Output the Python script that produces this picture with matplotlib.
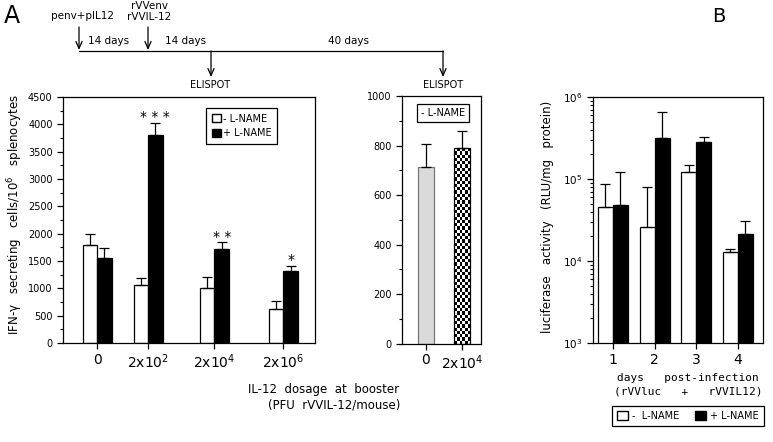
import numpy as np
import matplotlib
matplotlib.use('Agg')
import matplotlib.pyplot as plt
from matplotlib.patches import Patch
from matplotlib.ticker import MultipleLocator, LogLocator, NullFormatter

# ---- panel A, left: IFN-g ELISPOT at 14 days
dose_labels = ['0', '2x10$^2$', '2x10$^4$', '2x10$^6$']
minus_lname = [1800, 1055, 1010, 630]
minus_lname_err = [2000, 1180, 1210, 770]
plus_lname = [1550, 3810, 1720, 1320]
plus_lname_err = [1740, 4030, 1840, 1410]
stars = ['', '* * *', '* *', '*']

# ---- panel A, right: 40 days
late_labels = ['0', '2x10$^4$']
late_vals = [712, 790]
late_err = [805, 858]

# ---- panel B: luciferase activity
days = [1, 2, 3, 4]
luc_minus = [46000, 26000, 120000, 12700]
luc_minus_err = [86000, 79000, 150000, 14000]
luc_plus = [47500, 320000, 282000, 21200]
luc_plus_err = [123000, 650000, 322000, 30500]

plt.rcParams['font.family'] = ['DejaVu Sans']
plt.rcParams['axes.linewidth'] = 0.9

fig = plt.figure(figsize=(7.73, 4.42), dpi=100)


def style_ticks(ax):
    ax.tick_params(axis='both', which='major', direction='out', length=4,
                   width=0.9, labelsize=7, top=False, right=False)
    ax.tick_params(axis='y', which='minor', direction='out', length=2.5,
                   width=0.8, right=False)
    ax.tick_params(axis='x', which='major', labelsize=10, pad=3)


def up_errors(ax, x, vals, tops):
    ax.errorbar(x, vals, yerr=[np.zeros(len(vals)), np.array(tops) - np.array(vals)],
                fmt='none', ecolor='black', elinewidth=0.9, capsize=3.5, capthick=0.9)


# left panel
ax1 = fig.add_axes([0.0815, 0.224, 0.326, 0.5566])
group_x = np.array([0, 1, 2.3, 3.65])
w = 0.284
ax1.bar(group_x - w / 2, minus_lname, w, color='white', edgecolor='black', lw=0.9)
ax1.bar(group_x + w / 2, plus_lname, w, color='black', edgecolor='black', lw=0.9)
up_errors(ax1, group_x - w / 2, minus_lname, minus_lname_err)
up_errors(ax1, group_x + w / 2, plus_lname, plus_lname_err)
for xi, top, s in zip(group_x, plus_lname_err, stars):
    if s:
        ax1.text(xi + w / 2, top + 100, s, ha='center', va='center', fontsize=10)
ax1.set_xlim(-0.667, 4.27)
ax1.set_ylim(0, 4500)
ax1.set_xticks(group_x)
ax1.set_xticklabels(dose_labels)
ax1.yaxis.set_major_locator(MultipleLocator(500))
ax1.yaxis.set_minor_locator(MultipleLocator(250))
style_ticks(ax1)
leg = ax1.legend([Patch(facecolor='white', edgecolor='black'),
                  Patch(facecolor='black', edgecolor='black')],
                 ['- L-NAME', '+ L-NAME'], loc='upper left',
                 bbox_to_anchor=(0.55, 0.976), fancybox=False, edgecolor='black',
                 framealpha=1, fontsize=7, handlelength=0.9, handleheight=0.9,
                 handletextpad=0.15, borderpad=0.6, labelspacing=0.5)
leg.get_frame().set_linewidth(0.9)

# middle panel
ax2 = fig.add_axes([0.52, 0.2224, 0.102, 0.5604])
late_x = np.arange(len(late_vals))
lw2 = 0.44
b_gray, b_check = ax2.bar(late_x, late_vals, lw2, color=['#dadada', 'none'],
                          edgecolor=['#777777', 'black'], lw=0.9, zorder=2)
up_errors(ax2, late_x, late_vals, late_err)
x0, bw, bh = b_check.get_x(), b_check.get_width(), b_check.get_height()
ii, jj = np.mgrid[0:60, 0:6]
pattern = ((ii + jj) % 2).astype(float)
im = ax2.imshow(pattern, cmap='gray_r', extent=[x0, x0 + bw, 0, bh],
                aspect='auto', interpolation='nearest', zorder=1.9)
im.set_clip_path(b_check)
ax2.set_xlim(-0.657, 1.507)
ax2.set_ylim(0, 1000)
ax2.set_xticks(late_x)
ax2.set_xticklabels(late_labels)
ax2.yaxis.set_major_locator(MultipleLocator(200))
ax2.yaxis.set_minor_locator(MultipleLocator(100))
style_ticks(ax2)
ax2.text(0.52, 0.931, '- L-NAME', transform=ax2.transAxes, ha='center', va='center',
         fontsize=7, bbox=dict(boxstyle='square,pad=0.45', fc='white', ec='black', lw=0.9))

# panel B
ax3 = fig.add_axes([0.767, 0.224, 0.22, 0.5566])
dx = np.array(days, dtype=float)
bw3 = 0.36
ax3.bar(dx - bw3 / 2, luc_minus, bw3, color='white', edgecolor='black', lw=0.9)
ax3.bar(dx + bw3 / 2, luc_plus, bw3, color='black', edgecolor='black', lw=0.9)
up_errors(ax3, dx - bw3 / 2, luc_minus, luc_minus_err)
up_errors(ax3, dx + bw3 / 2, luc_plus, luc_plus_err)
ax3.set_yscale('log')
ax3.set_ylim(1e3, 1e6)
ax3.set_xlim(0.52, 4.6)
ax3.set_xticks(days)
ax3.yaxis.set_major_locator(LogLocator(base=10))
ax3.yaxis.set_minor_locator(LogLocator(base=10, subs=np.arange(2, 10)))
ax3.yaxis.set_minor_formatter(NullFormatter())
style_ticks(ax3)
ax3.tick_params(axis='y', which='major', labelsize=7.5)
fig.legend([Patch(facecolor='white', edgecolor='black'),
            Patch(facecolor='black', edgecolor='black')],
           ['-  L-NAME', '+ L-NAME'], loc='center', bbox_to_anchor=(0.89, 0.059),
           ncol=2, fancybox=False, edgecolor='black', framealpha=1, fontsize=7,
           handlelength=1.1, handleheight=1.1, handletextpad=0.45, columnspacing=1.6,
           borderpad=0.5).get_frame().set_linewidth(0.9)

# overlay for timeline and free text (pixel coordinates)
ov = fig.add_axes([0, 0, 1, 1])
ov.set_xlim(0, 773)
ov.set_ylim(442, 0)
ov.axis('off')
arrow = dict(arrowstyle='->,head_length=0.5,head_width=0.22', lw=0.9, color='black',
             shrinkA=0, shrinkB=0)
ov.plot([79, 443], [51, 51], color='black', lw=0.9)
for x in (79, 148):
    ov.annotate('', xy=(x, 50), xytext=(x, 27), arrowprops=arrow)
for x in (211, 443):
    ov.annotate('', xy=(x, 77), xytext=(x, 51), arrowprops=arrow)
ov.text(82, 16, 'penv+pIL12', ha='center', va='center', fontsize=7.5)
ov.text(149, 6, 'rVVenv', ha='center', va='center', fontsize=7.5)
ov.text(149, 17, 'rVVIL-12', ha='center', va='center', fontsize=7.5)
ov.text(109, 41, '14 days', ha='center', va='center', fontsize=7.5)
ov.text(186, 41, '14 days', ha='center', va='center', fontsize=7.5)
ov.text(348, 41, '40 days', ha='center', va='center', fontsize=7.5)
ov.text(210, 85, 'ELISPOT', ha='center', va='center', fontsize=7)
ov.text(443, 85, 'ELISPOT', ha='center', va='center', fontsize=7)
ov.text(4, 16, 'A', ha='left', va='center', fontsize=17)
ov.text(712, 16, 'B', ha='left', va='center', fontsize=14)

ov.text(15, 215, 'IFN-\u03b3   secreting   cells/10$^6$   splenocytes', rotation=90,
        ha='center', va='center', fontsize=8.5)
ov.text(324, 389, 'IL-12  dosage  at  booster', ha='center', va='center', fontsize=8.5)
ov.text(334, 405, '(PFU  rVVIL-12/mouse)', ha='center', va='center', fontsize=8.5)
ov.text(547, 217, 'luciferase   activity   (RLU/mg   protein)', rotation=90,
        ha='center', va='center', fontsize=8.5)
ov.text(688, 378, 'days   post-infection', ha='center', va='center', fontsize=8,
        family='DejaVu Sans Mono')
ov.text(688, 392, '(rVVluc   +   rVVIL12)', ha='center', va='center', fontsize=8,
        family='DejaVu Sans Mono')

fig.savefig('out.png', dpi=100)
